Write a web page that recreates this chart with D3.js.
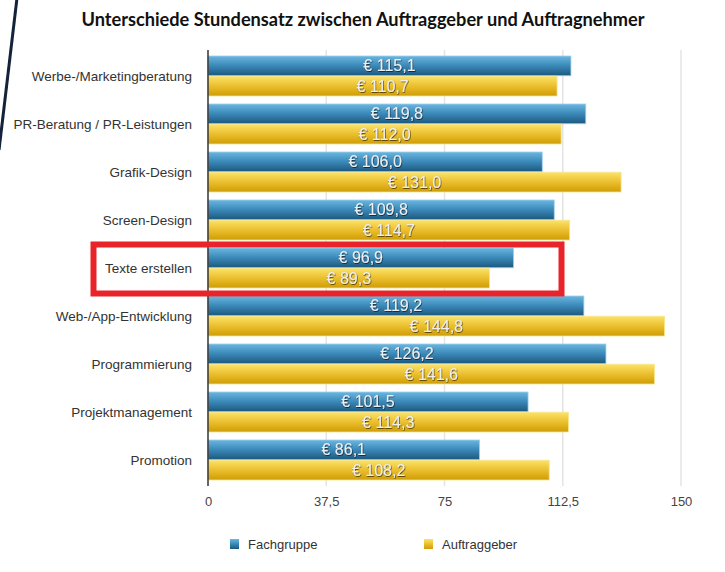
<!DOCTYPE html>
<html><head><meta charset="utf-8">
<script src="https://cdn.jsdelivr.net/npm/d3@7"></script>
<style>body{margin:0;background:#fff;}svg{display:block;}</style>
</head><body>
<script>
const categories = ["Werbe-/Marketingberatung","PR-Beratung / PR-Leistungen","Grafik-Design","Screen-Design","Texte erstellen","Web-/App-Entwicklung","Programmierung","Projektmanagement","Promotion"];
const fachgruppe = [115.1,119.8,106.0,109.8,96.9,119.2,126.2,101.5,86.1];
const auftraggeber = [110.7,112.0,131.0,114.7,89.3,144.8,141.6,114.3,108.2];
const seriesNames = ["Fachgruppe","Auftraggeber"];
const ticks = [0,37.5,75,112.5,150];
const title = "Unterschiede Stundensatz zwischen Auftraggeber und Auftragnehmer";

const W=725,H=572;
const svg=d3.select("body").append("svg").attr("width",W).attr("height",H);
const defs=svg.append("defs");
function grad(id,stops){const g=defs.append("linearGradient").attr("id",id).attr("x1",0).attr("y1",0).attr("x2",0).attr("y2",1);
 stops.forEach(s=>g.append("stop").attr("offset",s[0]).attr("stop-color",s[1]));}
grad("gb",[[0,"#6cb6e0"],[0.45,"#3d8dbd"],[1,"#1c587e"]]);
grad("gy",[[0,"#fbe36a"],[0.45,"#edc232"],[1,"#cf9c05"]]);
const f=defs.append("filter").attr("id","sh").attr("x","-10%").attr("y","-30%").attr("width","120%").attr("height","160%");
f.append("feDropShadow").attr("dx",0.6).attr("dy",0.8).attr("stdDeviation",0.6).attr("flood-color","#000").attr("flood-opacity",0.7);

const x=d3.scaleLinear().domain([0,150]).range([208,681]);
const y=d3.scaleBand().domain(categories).range([52,484]).paddingInner(8/48).paddingOuter(4/48);
const ys=d3.scaleBand().domain(seriesNames).range([0,y.bandwidth()]).paddingInner(0.025);

// decorative stroke
svg.append("line").attr("x1",17).attr("y1",-2).attr("x2",-1).attr("y2",150).attr("stroke","#14233a").attr("stroke-width",3);

// title
svg.append("text").attr("x",363).attr("y",26).attr("text-anchor","middle")
 .attr("font-family","Lato, 'Open Sans', sans-serif").attr("font-weight","bold").attr("font-size",18.2)
 .attr("fill","#111").text(title);

// grid
svg.append("g").selectAll("line").data(ticks.slice(1)).join("line")
 .attr("x1",d=>x(d)).attr("x2",d=>x(d)).attr("y1",50).attr("y2",486)
 .attr("stroke","#e4e4e4").attr("stroke-width",1.5);

// bars
const data=categories.map((c,i)=>({c,vals:[{s:"Fachgruppe",v:fachgruppe[i]},{s:"Auftraggeber",v:auftraggeber[i]}]}));
const g=svg.append("g").selectAll("g").data(data).join("g").attr("transform",d=>`translate(0,${y(d.c)})`);
g.selectAll("rect").data(d=>d.vals).join("rect")
 .attr("x",x(0)).attr("y",d=>ys(d.s)).attr("width",d=>x(d.v)-x(0)).attr("height",ys.bandwidth())
 .attr("fill",d=>d.s==="Fachgruppe"?"url(#gb)":"url(#gy)")
 .attr("stroke",d=>d.s==="Fachgruppe"?"#9fd0ec":"#f8e58a").attr("stroke-width",0.8);
g.selectAll("text").data(d=>d.vals).join("text")
 .attr("x",d=>(x(0)+x(d.v))/2).attr("y",d=>ys(d.s)+ys.bandwidth()/2+5.5)
 .attr("text-anchor","middle").attr("font-family","'Liberation Sans', Arial, sans-serif").attr("font-size",16)
 .attr("fill","#eeeeee").attr("filter","url(#sh)")
 .text(d=>"€ "+d3.format(".1f")(d.v).replace(".",","));

// category labels
svg.append("g").selectAll("text").data(categories).join("text")
 .attr("x",192).attr("y",d=>y(d)+y.bandwidth()/2+4.5).attr("text-anchor","end")
 .attr("font-family","'Liberation Sans', Arial, sans-serif").attr("font-size",13.5).attr("fill","#333").text(d=>d);

// axis line
svg.append("line").attr("x1",x(0)).attr("x2",x(0)).attr("y1",50).attr("y2",486).attr("stroke","#333").attr("stroke-width",1.5);

// x axis ticks labels
const xa=svg.append("g").attr("transform","translate(0,486)").call(d3.axisBottom(x).tickValues(ticks).tickSize(0).tickPadding(11).tickFormat(d=>String(d).replace(".",",")));
xa.select(".domain").remove();
xa.selectAll("text").attr("font-family","'Liberation Sans', Arial, sans-serif").attr("font-size",13).attr("fill","#444");

// legend
const leg=[{n:"Fachgruppe",c:"url(#gb)",x:230},{n:"Auftraggeber",c:"url(#gy)",x:424}];
const lg=svg.append("g").selectAll("g").data(leg).join("g").attr("transform",d=>`translate(${d.x},539)`);
lg.append("rect").attr("width",9).attr("height",10).attr("fill",d=>d.c);
lg.append("text").attr("x",18).attr("y",10).attr("font-family","'Liberation Sans', Arial, sans-serif").attr("font-size",13).attr("fill","#333").text(d=>d.n);

// highlight box
svg.append("rect").attr("x",93.5).attr("y",244.5).attr("width",468).attr("height",49).attr("fill","none").attr("stroke","#e8242a").attr("stroke-width",6);
</script>
</body></html>
